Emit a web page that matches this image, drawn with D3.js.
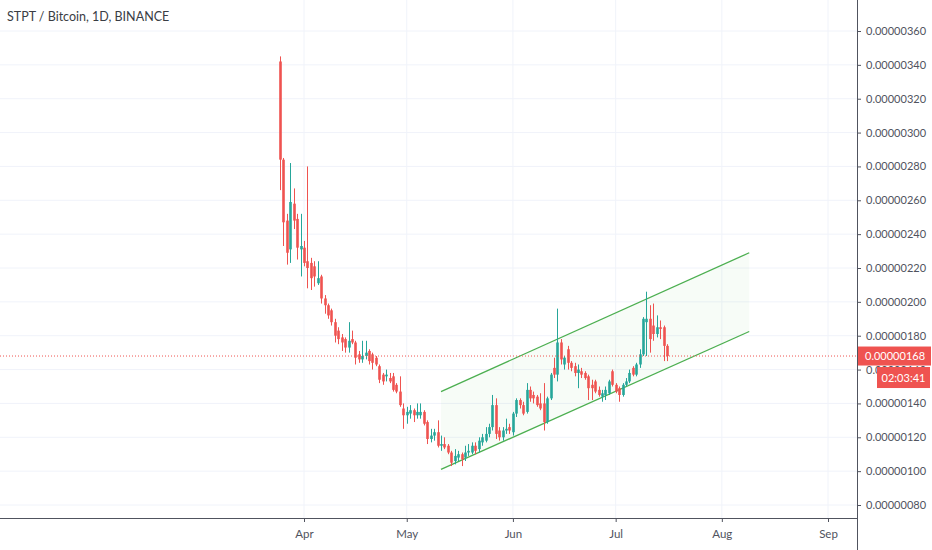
<!DOCTYPE html>
<html><head><meta charset="utf-8">
<script src="https://cdn.jsdelivr.net/npm/d3@7"></script>
<style>
body{margin:0;background:#fff;}
svg{display:block;font-family:Lato,"Open Sans",sans-serif;}
</style>
</head><body>
<svg id="c" width="932" height="550"></svg>
<script>
// ---- data (prices in satoshi, 1e-8 BTC) ----
const title = "STPT / Bitcoin, 1D, BINANCE";
const startDate = "2019-03-25";
const opens  = [342,284,248,231,258,249,231,232,224,223,221,211,215,202,198,195,188,183,179,178,173,178,176,169,166,168,171,169,167,162,157,156,155,156,151,147,137,133,134,136,133,133,135,129,119,121,123,115,116,115,111,106,108,110,108,111,111,115,113,117,118,122,126,139,124,120,124,126,123,134,142,139,135,148,145,144,140,140,129,143,161,157,176,163,172,164,162,158,159,158,156,151,153,148,144,145,146,159,151,149,145,151,153,161,157,163,169,188,190,186,181,185,185,174];
const highs  = [345,285,252,282,267,252,252,236,280,226,224,224,216,204,199,196,190,185,181,179,188,183,177,171,177,177,172,170,168,163,158,160,158,158,152,156,140,138,139,137,140,140,136,130,125,125,130,121,120,116,112,113,112,111,115,116,117,117,120,122,126,128,145,143,126,126,131,128,135,143,143,141,152,150,147,145,146,152,144,158,167,196,178,168,174,165,164,163,161,159,157,154,154,150,148,150,154,160,152,150,152,155,160,162,164,172,191,206,198,199,192,189,186,175];
const lows   = [266,233,222,223,243,225,215,221,208,207,209,210,199,193,190,186,176,175,171,170,170,175,163,164,164,166,163,160,162,152,151,153,152,147,146,138,125,128,131,129,131,131,127,116,117,118,114,112,113,110,103,104,106,103,106,109,110,110,111,115,117,120,124,119,118,118,122,122,121,132,137,133,134,141,140,138,136,124,128,142,155,153,163,160,160,159,156,149,155,154,142,142,146,144,141,142,145,150,146,141,144,150,152,156,156,161,168,168,170,177,179,178,165,165];
const closes = [284,247,229,259,248,232,233,223,220,214,215,214,202,198,192,188,180,178,176,173,177,176,167,166,168,170,165,164,163,154,153,157,153,148,147,139,133,135,136,133,135,135,128,119,121,123,115,116,114,111,105,109,110,107,111,112,115,112,118,120,122,126,139,122,120,124,125,124,134,142,139,134,148,143,143,139,137,129,143,157,157,176,166,167,164,161,158,160,157,155,149,149,147,145,146,148,153,151,147,145,151,153,158,157,163,169,190,190,178,181,185,184,174,168];
const priceTicks = [80,100,120,140,160,180,200,220,240,260,280,300,320,340,360];
const monthDates = ["2019-04-01","2019-05-01","2019-06-01","2019-07-01","2019-08-01","2019-09-01"];
const monthLabels = ["Apr","May","Jun","Jul","Aug","Sep"];
const channelDates = ["2019-05-11","2019-08-09"];
const channelUpper = [147, 229];
const channelLower = [101, 182.5];
const lastPrice = 168;
const timerText = "02:03:41";

// ---- setup ----
const W = 932, H = 550, axisX = 857, axisY = 518;
const parse = d3.utcParse("%Y-%m-%d");
const svg = d3.select("#c");
const x = d3.scaleUtc().domain([parse("2019-04-01"), parse("2019-09-01")]).range([304, 828]);
const y = d3.scaleLinear().domain([80, 360]).range([505, 31]);
const up = "#26a69a", down = "#ef5350";
const fmt = d => (d * 1e-8).toFixed(8);

const start = parse(startDate);
const candles = opens.map((o, i) => ({
  date: d3.utcDay.offset(start, i), o, h: highs[i], l: lows[i], c: closes[i]
}));

// grid
const grid = svg.append("g");
grid.selectAll("line.h").data(priceTicks).join("line")
  .attr("x1", 0).attr("x2", axisX).attr("y1", d => y(d)).attr("y2", d => y(d))
  .attr("stroke", "#f0f3fa").attr("stroke-width", 1);
grid.selectAll("line.v").data(monthDates).join("line")
  .attr("x1", d => x(parse(d))).attr("x2", d => x(parse(d)))
  .attr("y1", 0).attr("y2", axisY)
  .attr("stroke", "#f0f3fa").attr("stroke-width", 1);

// channel
const cd = channelDates.map(parse);
svg.append("path")
  .attr("d", d3.line()([[x(cd[0]), y(channelUpper[0])],[x(cd[1]), y(channelUpper[1])],[x(cd[1]), y(channelLower[1])],[x(cd[0]), y(channelLower[0])]]) + "Z")
  .attr("fill", "rgba(76,175,80,0.045)");
[channelUpper, channelLower].forEach(v => {
  svg.append("line")
    .attr("x1", x(cd[0])).attr("y1", y(v[0]))
    .attr("x2", x(cd[1])).attr("y2", y(v[1]))
    .attr("stroke", "#4caf50").attr("stroke-width", 1.3);
});

// candles
const bw = 2.6;
const cg = svg.append("g");
cg.selectAll("line.w").data(candles).join("line")
  .attr("x1", d => Math.round(x(d.date)) + 0.5).attr("x2", d => Math.round(x(d.date)) + 0.5)
  .attr("y1", d => y(d.h)).attr("y2", d => y(d.l))
  .attr("stroke", d => d.c >= d.o ? up : down).attr("stroke-width", 1);
cg.selectAll("rect").data(candles).join("rect")
  .attr("x", d => Math.round(x(d.date)) + 0.5 - bw / 2)
  .attr("width", bw)
  .attr("y", d => y(Math.max(d.o, d.c)))
  .attr("height", d => Math.max(1, Math.abs(y(d.o) - y(d.c))))
  .attr("fill", d => d.c >= d.o ? up : down);

// last price dotted line
svg.append("line")
  .attr("x1", 0).attr("x2", axisX).attr("y1", y(lastPrice)).attr("y2", y(lastPrice))
  .attr("stroke", down).attr("stroke-width", 1).attr("stroke-dasharray", "1,2");

// axes
svg.append("rect").attr("x", axisX).attr("y", 0).attr("width", W - axisX).attr("height", H).attr("fill", "#fff");
svg.append("rect").attr("x", 0).attr("y", axisY).attr("width", axisX).attr("height", H - axisY).attr("fill", "#fff");

const yAxis = svg.append("g").attr("transform", `translate(${axisX},0)`)
  .call(d3.axisRight(y).tickValues(priceTicks).tickFormat(fmt).tickSize(4).tickPadding(5));
yAxis.select(".domain").remove();
yAxis.selectAll("line").attr("stroke", "#50535e");
yAxis.selectAll("text").attr("fill", "#50535e").style("font-size", "11px").style("font-family", "Lato,sans-serif");

const xAxis = svg.append("g").attr("transform", `translate(0,${axisY})`)
  .call(d3.axisBottom(x).tickValues(monthDates.map(parse)).tickFormat((d, i) => monthLabels[i]).tickSize(4).tickPadding(8));
xAxis.select(".domain").remove();
xAxis.selectAll("line").attr("stroke", "#50535e");
xAxis.selectAll("text").attr("fill", "#50535e").style("font-size", "11.5px").style("font-family", "Lato,sans-serif");

svg.append("line").attr("x1", axisX + 0.5).attr("x2", axisX + 0.5).attr("y1", 0).attr("y2", H).attr("stroke", "#50535e");
svg.append("line").attr("x1", 0).attr("x2", axisX).attr("y1", axisY + 0.5).attr("y2", axisY + 0.5).attr("stroke", "#50535e");

// price label + timer
const py = y(lastPrice);
svg.append("rect").attr("x", axisX + 1).attr("y", py - 9.5).attr("width", 73).attr("height", 19).attr("fill", down);
svg.append("text").attr("x", 865).attr("y", py + 4).attr("fill", "#fff")
  .style("font-size", "11px").text(fmt(lastPrice));
svg.append("rect").attr("x", 877).attr("y", py + 11).attr("width", 53).attr("height", 21).attr("fill", down);
svg.append("text").attr("x", 903.5).attr("y", py + 25.5).attr("text-anchor", "middle").attr("fill", "#fff")
  .style("font-size", "11px").text(timerText);

// title
svg.append("text").attr("x", 7).attr("y", 21).attr("fill", "#3a3d44")
  .style("font-size", "12.5px").text(title);
</script>
</body></html>
